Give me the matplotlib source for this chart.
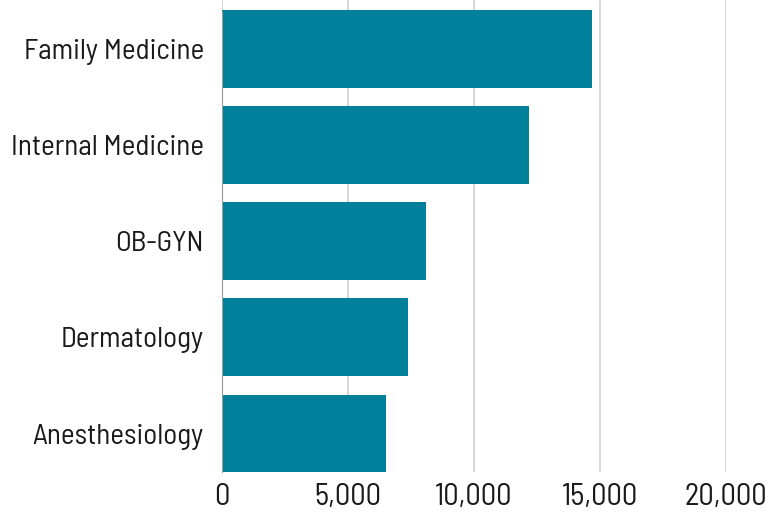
import matplotlib.pyplot as plt

specialties = ["Family Medicine", "Internal Medicine", "OB-GYN", "Dermatology", "Anesthesiology"]
counts = [14700, 12200, 8100, 7400, 6500]
xticks = [0, 5000, 10000, 15000, 20000]

plt.rcParams['font.family'] = ['Barlow Semi Condensed', 'DejaVu Sans']

fig = plt.figure(figsize=(7.68, 5.15), dpi=100)
ax = fig.add_axes([222 / 768, 43 / 515, (725.5 - 222) / 768, 472 / 515])

ypos = list(range(len(specialties)))
ax.barh(ypos, counts, height=0.81, color="#00809A", zorder=2)

ax.set_ylim(4.4, -0.51)
ax.set_xlim(0, 20000)
ax.set_yticks(ypos)
ax.set_yticklabels(specialties, fontsize=21, color="#1a1a1a")
ax.set_xticks(xticks)
ax.set_xticklabels([f"{v:,}" for v in xticks], fontsize=22, color="#1a1a1a")
ax.tick_params(axis="both", length=0)
ax.tick_params(axis="y", pad=13)
ax.tick_params(axis="x", pad=8)

ax.grid(axis="x", color="#d0d0d0", linewidth=1.2, zorder=0)
for s in ["top", "right", "bottom"]:
    ax.spines[s].set_visible(False)
ax.spines["left"].set_color("#999999")
ax.spines["left"].set_bounds(4.4, -0.4)

fig.savefig("out.png", dpi=100)
